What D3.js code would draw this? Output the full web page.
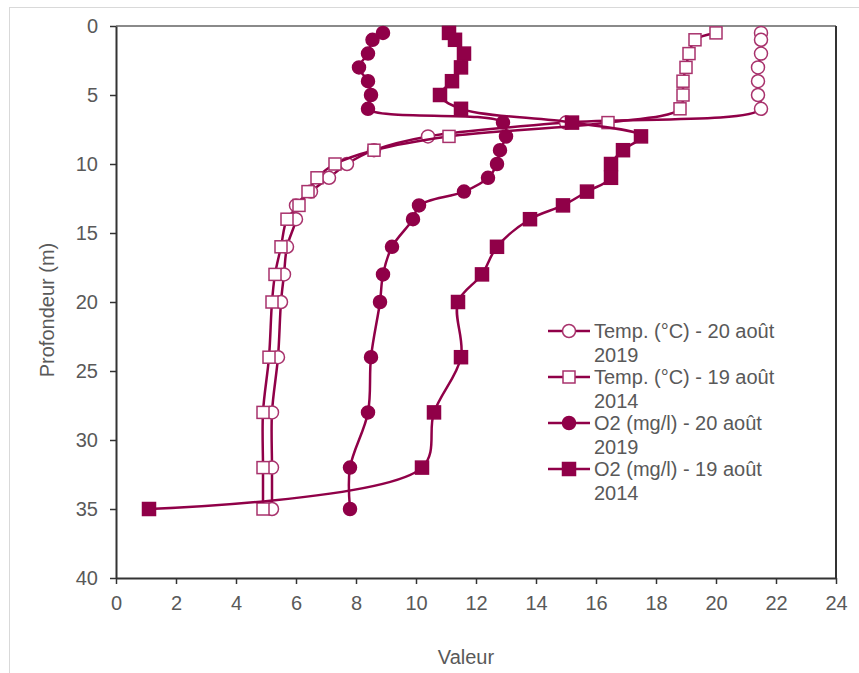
<!DOCTYPE html>
<html>
<head>
<meta charset="utf-8">
<script src="https://cdn.jsdelivr.net/npm/d3@7"></script>
<style>
  body { margin: 0; background: #fff; }
  text { font-family: "Liberation Sans", Arial, sans-serif; fill: #595959; }
</style>
</head>
<body>
<svg id="svg"></svg>
<script>
// depth of each measurement (m)
const depths = [0.5, 1, 2, 3, 4, 5, 6, 7, 8, 9, 10, 11, 12, 13, 14, 16, 18, 20, 24, 28, 32, 35];

// series values
const temp2019 = [21.5, 21.5, 21.5, 21.4, 21.4, 21.4, 21.5, 15.0, 10.4, 8.6, 7.7, 7.1, 6.5, 6.0, 6.0, 5.7, 5.6, 5.5, 5.4, 5.2, 5.2, 5.2];
const temp2014 = [20.0, 19.3, 19.1, 19.0, 18.9, 18.9, 18.8, 16.4, 11.1, 8.6, 7.3, 6.7, 6.4, 6.1, 5.7, 5.5, 5.3, 5.2, 5.1, 4.9, 4.9, 4.9];
const o2_2019 = [8.9, 8.55, 8.4, 8.1, 8.4, 8.5, 8.4, 12.9, 13.0, 12.8, 12.7, 12.4, 11.6, 10.1, 9.9, 9.2, 8.9, 8.8, 8.5, 8.4, 7.8, 7.8];
const o2_2014 = [11.1, 11.3, 11.6, 11.5, 11.2, 10.8, 11.5, 15.2, 17.5, 16.9, 16.5, 16.5, 15.7, 14.9, 13.8, 12.7, 12.2, 11.4, 11.5, 10.6, 10.2, 1.1];

const seriesNames = [
  ["Temp. (°C) - 20 août", "2019"],
  ["Temp. (°C) - 19 août", "2014"],
  ["O2 (mg/l) - 20 août", "2019"],
  ["O2 (mg/l) - 19 août", "2014"]
];
const seriesShapes = ["circle-open", "square-open", "circle", "square"];

const xTicks = [0, 2, 4, 6, 8, 10, 12, 14, 16, 18, 20, 22, 24];
const yTicks = [0, 5, 10, 15, 20, 25, 30, 35, 40];

const width = 859;
const height = 673;
const color = "#900048";
const openColor = "#a8326c";

const svg = d3.select("#svg")
  .attr("width", width)
  .attr("height", height);

// chart frame
svg.append("rect")
  .attr("x", 9.5).attr("y", 7.5)
  .attr("width", 880).attr("height", 700)
  .attr("fill", "none")
  .attr("stroke", "#d9d9d9");

const x = d3.scaleLinear().domain([0, 24]).range([116, 836]);
const y = d3.scaleLinear().domain([0, 40]).range([26, 578]);

// plot box: top gray, right black
svg.append("line")
  .attr("x1", x(0)).attr("x2", x(24))
  .attr("y1", y(0)).attr("y2", y(0))
  .attr("stroke", "#8a8a8a").attr("stroke-width", 2);
svg.append("line")
  .attr("x1", x(24)).attr("x2", x(24))
  .attr("y1", y(0)).attr("y2", y(40))
  .attr("stroke", "#333").attr("stroke-width", 2);

// axes
const xAxis = svg.append("g")
  .attr("transform", `translate(0,${y(40)})`)
  .call(d3.axisBottom(x).tickValues(xTicks).tickSize(6).tickPadding(12).tickSizeOuter(0));
const yAxis = svg.append("g")
  .attr("transform", `translate(${x(0)},0)`)
  .call(d3.axisLeft(y).tickValues(yTicks).tickSize(6).tickPadding(12).tickSizeOuter(0));

[xAxis, yAxis].forEach(ax => {
  ax.select(".domain").attr("stroke", "#333").attr("stroke-width", 2);
  ax.selectAll(".tick line").attr("stroke", "#333").attr("stroke-width", 1.5);
  ax.selectAll(".tick text")
    .style("font-family", '"Liberation Sans", Arial, sans-serif')
    .style("font-size", "20px")
    .attr("fill", "#595959");
});

// axis titles
svg.append("text")
  .attr("x", 466).attr("y", 664)
  .attr("text-anchor", "middle")
  .style("font-size", "20px")
  .text("Valeur");
svg.append("text")
  .attr("transform", "translate(54,310) rotate(-90)")
  .attr("text-anchor", "middle")
  .style("font-size", "20px")
  .text("Profondeur (m)");

// lines + markers (centripetal smoothing, less overshoot on uneven steps)
const line = d3.line()
  .curve(d3.curveCatmullRom.alpha(0.5))
  .x(d => x(d.v))
  .y(d => y(d.d));

const drawMarker = (g, shape, cx, cy) => {
  if (shape.startsWith("circle")) {
    g.append("circle")
      .attr("cx", cx).attr("cy", cy).attr("r", 6.5)
      .attr("fill", shape === "circle" ? color : "#fff")
      .attr("stroke", shape === "circle" ? color : openColor)
      .attr("stroke-width", 1.5);
  } else {
    const s = shape === "square" ? 13 : 12;
    g.append("rect")
      .attr("x", cx - s / 2).attr("y", cy - s / 2)
      .attr("width", s).attr("height", s)
      .attr("fill", shape === "square" ? color : "#fff")
      .attr("stroke", shape === "square" ? color : openColor)
      .attr("stroke-width", 1.5);
  }
};

const allSeries = [temp2019, temp2014, o2_2019, o2_2014];

allSeries.forEach((values, i) => {
  const pts = values.map((v, j) => ({ v, d: depths[j] }));
  const g = svg.append("g");
  g.append("path")
    .attr("d", line(pts))
    .attr("fill", "none")
    .attr("stroke", color)
    .attr("stroke-width", 2.5);
  pts.forEach(p => drawMarker(g, seriesShapes[i], x(p.v), y(p.d)));
});

// legend
const legend = svg.append("g");
seriesNames.forEach((name, i) => {
  const cy = 331 + i * 46;
  const g = legend.append("g");
  g.append("line")
    .attr("x1", 548).attr("x2", 590)
    .attr("y1", cy).attr("y2", cy)
    .attr("stroke", color).attr("stroke-width", 2.5);
  drawMarker(g, seriesShapes[i], 569, cy);
  g.append("text")
    .attr("x", 594).attr("y", cy + 7)
    .style("font-size", "20px")
    .text(name[0]);
  g.append("text")
    .attr("x", 594).attr("y", cy + 31)
    .style("font-size", "20px")
    .text(name[1]);
});
</script>
</body>
</html>
